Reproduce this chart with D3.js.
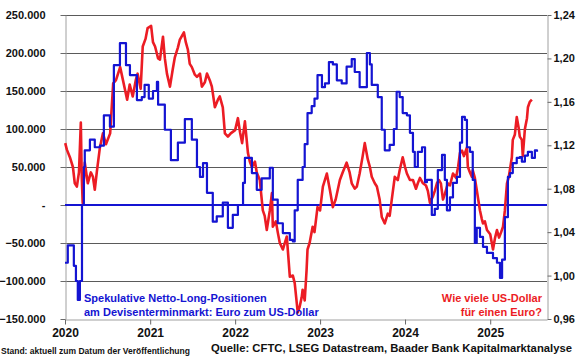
<!DOCTYPE html>
<html>
<head>
<meta charset="utf-8">
<script src="https://cdn.jsdelivr.net/npm/d3@7"></script>
<style>
    body { margin: 0; background: #fff; }
    svg { display: block; font-family: 'Liberation Sans', Arial, sans-serif; font-weight: bold; }
</style>
</head>
<body>
<div id="root"></div>
<script>
const width = 580;
const height = 359;

// CFTC net long positions EUR (weekly)
const netLong = [
    ['2020-01-01', -76000], ['2020-01-13', -53000], ['2020-01-26', -53000], ['2020-02-08', -80000],
    ['2020-02-17', -100000], ['2020-02-25', -125000], ['2020-03-05', -100000], ['2020-03-14', 0],
    ['2020-03-22', 50000], ['2020-03-26', 72000], ['2020-04-17', 86000], ['2020-05-08', 76000],
    ['2020-05-30', 78000], ['2020-06-16', 118000], ['2020-07-12', 103000], ['2020-07-29', 184000],
    ['2020-08-24', 213000], ['2020-09-19', 184000], ['2020-10-06', 171000], ['2020-11-05', 138000],
    ['2020-11-26', 142000], ['2020-12-08', 158000], ['2020-12-26', 140000], ['2021-01-13', 150000],
    ['2021-01-30', 162000], ['2021-02-04', 132000], ['2021-03-05', 99000], ['2021-03-31', 59000],
    ['2021-04-30', 82000], ['2021-05-30', 113000], ['2021-06-29', 86000], ['2021-07-21', 50000],
    ['2021-08-03', 37000], ['2021-08-16', 55000], ['2021-09-02', 16000], ['2021-09-27', -22000],
    ['2021-10-14', -15000], ['2021-11-09', 3000], ['2021-12-01', -30000], ['2021-12-22', -13000],
    ['2022-01-13', 0], ['2022-02-04', 29000], ['2022-02-12', 62000], ['2022-03-14', 42000],
    ['2022-04-04', 20000], ['2022-04-25', 35000], ['2022-05-30', 49000], ['2022-06-12', 7000],
    ['2022-07-03', -24000], ['2022-07-25', -37000], ['2022-08-24', -46000], ['2022-09-06', -48000],
    ['2022-09-14', -7000], ['2022-09-27', 33000], ['2022-10-18', 50000], ['2022-10-27', 80000],
    ['2022-11-08', 121000], ['2022-11-26', 130000], ['2022-12-08', 140000], ['2022-12-21', 171000],
    ['2023-01-09', 155000], ['2023-01-22', 160000], ['2023-02-08', 188000], ['2023-02-25', 185000],
    ['2023-03-14', 164000], ['2023-04-04', 160000], ['2023-04-25', 182000], ['2023-05-17', 192000],
    ['2023-05-30', 175000], ['2023-06-20', 155000], ['2023-07-12', 155000], ['2023-07-21', 200000],
    ['2023-08-03', 185000], ['2023-08-11', 158000], ['2023-09-06', 142000], ['2023-09-23', 99000],
    ['2023-10-06', 72000], ['2023-10-27', 79000], ['2023-11-14', 100000], ['2023-11-26', 149000],
    ['2023-12-09', 142000], ['2023-12-22', 121000], ['2024-01-09', 118000], ['2024-01-22', 95000],
    ['2024-02-04', 70000], ['2024-02-12', 50000], ['2024-02-25', 70000], ['2024-03-14', 76000],
    ['2024-03-27', 30000], ['2024-04-04', 33000], ['2024-04-25', -13000], ['2024-05-08', -5000],
    ['2024-05-21', 46000], ['2024-06-08', 66000], ['2024-06-20', 33000], ['2024-06-29', -7000],
    ['2024-07-12', 10000], ['2024-07-25', 29000], ['2024-08-11', 37000], ['2024-08-24', 82000],
    ['2024-09-02', 116000], ['2024-09-14', 112000], ['2024-09-23', 76000], ['2024-10-06', 70000],
    ['2024-10-18', 33000], ['2024-10-27', -50000], ['2024-11-04', -30000], ['2024-11-18', -42000],
    ['2024-12-01', -55000], ['2024-12-18', -63000], ['2025-01-01', -63000], ['2025-01-13', -70000],
    ['2025-01-30', -76000], ['2025-02-12', -96000], ['2025-02-21', -72000], ['2025-03-05', -16000],
    ['2025-03-18', 37000], ['2025-03-27', 42000], ['2025-04-08', 55000], ['2025-04-25', 62000],
    ['2025-05-08', 63000], ['2025-05-17', 57000], ['2025-05-30', 65000], ['2025-06-12', 70000],
    ['2025-06-29', 62000], ['2025-07-12', 72000], ['2025-07-21', 70000]
];

// EUR/USD
const eurUsd = [
    ['2020-01-02', 1.122], ['2020-01-09', 1.116], ['2020-01-22', 1.109], ['2020-02-04', 1.100],
    ['2020-02-12', 1.085], ['2020-02-21', 1.082], ['2020-03-01', 1.095], ['2020-03-09', 1.141],
    ['2020-03-13', 1.091], ['2020-03-17', 1.067], ['2020-03-26', 1.104], ['2020-04-08', 1.085],
    ['2020-04-21', 1.095], ['2020-04-30', 1.091], ['2020-05-08', 1.079], ['2020-05-17', 1.096],
    ['2020-05-30', 1.118], ['2020-06-12', 1.131], ['2020-06-25', 1.121], ['2020-07-13', 1.131],
    ['2020-07-26', 1.177], ['2020-08-07', 1.180], ['2020-08-25', 1.192], ['2020-09-06', 1.180],
    ['2020-09-24', 1.162], ['2020-10-05', 1.176], ['2020-10-18', 1.165], ['2020-10-31', 1.180],
    ['2020-11-08', 1.186], ['2020-11-21', 1.172], ['2020-11-30', 1.211], ['2020-12-12', 1.218],
    ['2020-12-21', 1.228], ['2021-01-05', 1.230], ['2021-01-13', 1.215], ['2021-01-22', 1.211],
    ['2021-02-04', 1.200], ['2021-02-12', 1.199], ['2021-02-25', 1.220], ['2021-03-05', 1.200],
    ['2021-03-14', 1.186], ['2021-03-27', 1.174], ['2021-04-08', 1.190], ['2021-04-17', 1.201],
    ['2021-04-30', 1.210], ['2021-05-08', 1.217], ['2021-05-26', 1.224], ['2021-06-03', 1.215],
    ['2021-06-12', 1.208], ['2021-06-20', 1.195], ['2021-06-29', 1.192], ['2021-07-12', 1.185],
    ['2021-07-21', 1.183], ['2021-08-03', 1.186], ['2021-08-11', 1.174], ['2021-08-24', 1.178],
    ['2021-09-02', 1.186], ['2021-09-14', 1.180], ['2021-09-23', 1.174], ['2021-10-06', 1.155],
    ['2021-10-19', 1.162], ['2021-10-27', 1.165], ['2021-11-09', 1.155], ['2021-11-18', 1.131],
    ['2021-12-01', 1.128], ['2021-12-13', 1.131], ['2022-01-01', 1.134], ['2022-01-13', 1.145],
    ['2022-01-22', 1.132], ['2022-01-31', 1.122], ['2022-02-12', 1.142], ['2022-02-25', 1.113],
    ['2022-03-05', 1.105], ['2022-03-14', 1.100], ['2022-03-27', 1.105], ['2022-04-04', 1.095],
    ['2022-04-17', 1.088], ['2022-04-30', 1.060], ['2022-05-08', 1.055], ['2022-05-17', 1.042],
    ['2022-05-30', 1.060], ['2022-06-08', 1.076], ['2022-06-12', 1.045], ['2022-06-25', 1.050],
    ['2022-07-03', 1.040], ['2022-07-12', 1.030], ['2022-07-25', 1.024], ['2022-08-11', 1.036],
    ['2022-08-24', 0.999], ['2022-09-06', 1.000], ['2022-09-14', 0.993], ['2022-09-27', 0.966],
    ['2022-10-05', 0.971], ['2022-10-14', 0.980], ['2022-10-18', 0.987], ['2022-10-27', 0.977],
    ['2022-11-04', 1.005], ['2022-11-08', 1.024], ['2022-11-17', 1.030], ['2022-11-30', 1.045],
    ['2022-12-08', 1.040], ['2022-12-21', 1.063], ['2023-01-01', 1.060], ['2023-01-13', 1.082],
    ['2023-01-30', 1.094], ['2023-02-12', 1.079], ['2023-02-25', 1.063], ['2023-03-09', 1.070],
    ['2023-03-27', 1.088], ['2023-04-08', 1.095], ['2023-04-25', 1.104], ['2023-05-08', 1.095],
    ['2023-05-17', 1.085], ['2023-05-30', 1.080], ['2023-06-08', 1.082], ['2023-06-20', 1.094],
    ['2023-07-03', 1.110], ['2023-07-12', 1.122], ['2023-07-25', 1.107], ['2023-08-03', 1.100],
    ['2023-08-11', 1.091], ['2023-08-24', 1.085], ['2023-09-02', 1.082], ['2023-09-14', 1.070],
    ['2023-09-23', 1.054], ['2023-10-06', 1.048], ['2023-10-19', 1.057], ['2023-10-27', 1.055],
    ['2023-11-05', 1.070], ['2023-11-18', 1.091], ['2023-12-01', 1.088], ['2023-12-09', 1.097],
    ['2023-12-22', 1.109], ['2024-01-01', 1.100], ['2024-01-09', 1.094], ['2024-01-22', 1.088],
    ['2024-02-04', 1.088], ['2024-02-17', 1.080], ['2024-02-25', 1.085], ['2024-03-05', 1.090],
    ['2024-03-18', 1.085], ['2024-03-31', 1.083], ['2024-04-08', 1.078], ['2024-04-17', 1.067],
    ['2024-04-30', 1.073], ['2024-05-08', 1.078], ['2024-05-17', 1.085], ['2024-05-26', 1.088],
    ['2024-06-03', 1.085], ['2024-06-12', 1.070], ['2024-06-20', 1.075], ['2024-07-03', 1.085],
    ['2024-07-12', 1.083], ['2024-07-25', 1.094], ['2024-08-07', 1.090], ['2024-08-16', 1.100],
    ['2024-08-24', 1.113], ['2024-09-02', 1.115], ['2024-09-10', 1.110], ['2024-09-23', 1.118],
    ['2024-09-27', 1.100], ['2024-10-06', 1.095], ['2024-10-14', 1.091], ['2024-10-18', 1.097],
    ['2024-10-27', 1.090], ['2024-11-04', 1.079], ['2024-11-18', 1.060], ['2024-11-26', 1.052],
    ['2024-12-01', 1.048], ['2024-12-09', 1.050], ['2024-12-18', 1.042], ['2025-01-01', 1.038],
    ['2025-01-13', 1.024], ['2025-01-22', 1.035], ['2025-01-30', 1.042], ['2025-02-08', 1.035],
    ['2025-02-17', 1.040], ['2025-02-25', 1.045], ['2025-03-05', 1.060], ['2025-03-14', 1.085],
    ['2025-03-22', 1.091], ['2025-04-04', 1.109], ['2025-04-08', 1.125], ['2025-04-17', 1.130],
    ['2025-04-25', 1.146], ['2025-05-04', 1.135], ['2025-05-08', 1.128], ['2025-05-17', 1.125],
    ['2025-05-21', 1.110], ['2025-05-30', 1.135], ['2025-06-08', 1.145], ['2025-06-12', 1.155],
    ['2025-06-20', 1.160], ['2025-06-29', 1.162]
];

const leftTicks = [-150000, -100000, -50000, 0, 50000, 100000, 150000, 200000, 250000];
const rightTicks = [0.96, 1.00, 1.04, 1.08, 1.12, 1.16, 1.20, 1.24];
const blueLabel = ['Spekulative Netto-Long-Positionen', 'am Devisenterminmarkt: Euro zum US-Dollar'];
const redLabel = ['Wie viele US-Dollar', 'für einen Euro?'];
const footLeft = 'Stand: aktuell zum Datum der Veröffentlichung';
const footRight = 'Quelle: CFTC, LSEG Datastream, Baader Bank Kapitalmarktanalyse';

const BLUE = '#1414d2';
const RED = '#ec1c24';
const parse = d3.timeParse('%Y-%m-%d');

const plot = {left: 65, right: 547, top: 15, bottom: 319};

const x = d3.scaleTime()
    .domain([new Date(2020, 0, 1), new Date(2025, 8, 2)])
    .range([plot.left, plot.right]);
const yL = d3.scaleLinear().domain([-150000, 250000]).range([plot.bottom, plot.top]);
const yR = d3.scaleLinear().domain([0.96, 1.24]).range([plot.bottom, plot.top]);

// 250.000 / - / -50.000
const fmtLeft = v => v === 0 ? '-' : d3.format(',')(v).replace(/,/g, '.');
const fmtRight = v => d3.format('.2f')(v).replace('.', ',');

const svg = d3.select('#root')
    .append('svg')
    .attr('width', width)
    .attr('height', height);

// gridlines
svg.append('g')
    .selectAll('line')
    .data(leftTicks.filter(d => d !== -150000))
    .join('line')
    .attr('x1', plot.left)
    .attr('x2', plot.right)
    .attr('y1', d => Math.round(yL(d)) + 0.5)
    .attr('y2', d => Math.round(yL(d)) + 0.5)
    .attr('stroke', '#5a5a5a')
    .attr('stroke-width', 1);

// axes
const axisLeft = svg.append('g')
    .attr('transform', `translate(${plot.left + 0.5},0)`)
    .call(d3.axisLeft(yL).tickValues(leftTicks).tickFormat(fmtLeft).tickSize(5).tickSizeOuter(0).tickPadding(15));

const axisRight = svg.append('g')
    .attr('transform', `translate(${plot.right + 0.5},0)`)
    .call(d3.axisRight(yR).tickValues(rightTicks).tickFormat(fmtRight).tickSize(4).tickSizeOuter(0).tickPadding(2));

const axisBottom = svg.append('g')
    .attr('transform', `translate(0,${plot.bottom + 0.5})`)
    .call(d3.axisBottom(x).ticks(d3.timeYear.every(1)).tickFormat(d3.timeFormat('%Y')).tickSize(5).tickSizeOuter(0).tickPadding(4));

[axisLeft, axisRight, axisBottom].forEach(g => {
    g.select('.domain').attr('stroke', '#a0a0a0');
    g.selectAll('.tick line').attr('stroke', '#6a6a6a');
    g.selectAll('text')
        .attr('fill', '#111')
        .attr('font-family', null)
        .attr('font-size', 11);
});
axisBottom.selectAll('text').attr('font-size', 12);

// zero line
svg.append('line')
    .attr('x1', plot.left)
    .attr('x2', plot.right)
    .attr('y1', yL(0))
    .attr('y2', yL(0))
    .attr('stroke', BLUE)
    .attr('stroke-width', 2);

const lineL = d3.line().curve(d3.curveStepAfter).x(d => x(parse(d[0]))).y(d => yL(d[1]));
const lineR = d3.line().x(d => x(parse(d[0]))).y(d => yR(d[1]));

svg.append('path')
    .datum(eurUsd)
    .attr('d', lineR)
    .attr('fill', 'none')
    .attr('stroke', RED)
    .attr('stroke-width', 2.6)
    .attr('stroke-linejoin', 'round');

svg.append('path')
    .datum(netLong)
    .attr('d', lineL)
    .attr('fill', 'none')
    .attr('stroke', BLUE)
    .attr('stroke-width', 2.2)
    .attr('stroke-linejoin', 'round');

// legends in the plot
svg.append('text')
    .attr('fill', BLUE)
    .attr('font-size', 11)
    .selectAll('tspan')
    .data(blueLabel)
    .join('tspan')
    .attr('x', 84)
    .attr('y', (d, i) => 302 + i * 14)
    .text(d => d);

svg.append('text')
    .attr('fill', RED)
    .attr('font-size', 11)
    .attr('text-anchor', 'end')
    .selectAll('tspan')
    .data(redLabel)
    .join('tspan')
    .attr('x', 542)
    .attr('y', (d, i) => 302 + i * 14)
    .text(d => d);

// footer
svg.append('text')
    .attr('x', 1)
    .attr('y', 354)
    .attr('font-size', 8.5)
    .attr('fill', '#111')
    .text(footLeft);

svg.append('text')
    .attr('x', 211)
    .attr('y', 352)
    .attr('font-size', 11.5)
    .attr('fill', '#111')
    .attr('textLength', 361)
    .attr('lengthAdjust', 'spacingAndGlyphs')
    .text(footRight);
</script>
</body>
</html>
